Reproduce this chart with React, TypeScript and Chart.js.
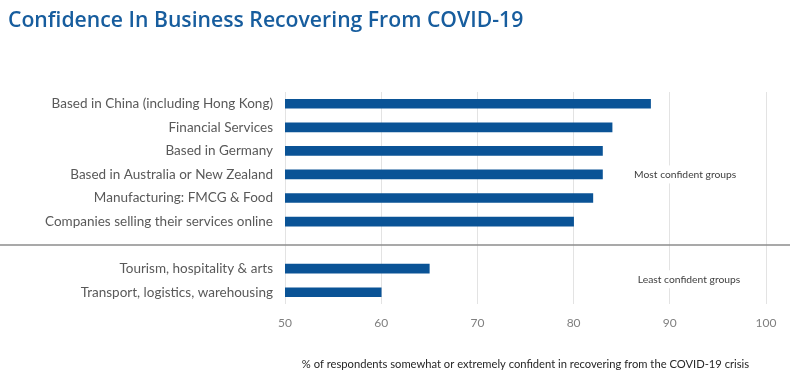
import React, { useEffect, useRef } from "react";
import { Chart, registerables } from "chart.js";
Chart.register(...registerables);

const TITLE = "Confidence In Business Recovering From COVID-19";
const categories = [
  "Based in China (including Hong Kong)",
  "Financial Services",
  "Based in Germany",
  "Based in Australia or New Zealand",
  "Manufacturing: FMCG & Food",
  "Companies selling their services online",
  "",
  "Tourism, hospitality & arts",
  "Transport, logistics, warehousing",
];
const values: (number | null)[] = [88, 84, 83, 83, 82, 80, null, 65, 60];
const GAP_INDEX = 6;
const annotations = [
  { text: "Most confident groups", category: 3, value: 91.6 },
  { text: "Least confident groups", category: 7.45, value: 92.0 },
];
const xTicks = [50, 60, 70, 80, 90, 100];
const AXIS_TITLE = "% of respondents somewhat or extremely confident in recovering from the COVID-19 crisis";

const FONT = "Lato, 'Open Sans', sans-serif";
const BAR = "#0a5396";

const overlay = {
  id: "overlay",
  afterDraw(chart: any) {
    const ctx = chart.ctx;
    const x = chart.scales.x;
    const y = chart.scales.y;
    ctx.save();
    // title
    ctx.fillStyle = "#175d9e";
    ctx.font = `600 21.2px 'Open Sans', sans-serif`;
    ctx.textAlign = "left";
    ctx.textBaseline = "alphabetic";
    ctx.fillText(TITLE, 8, 27);
    // separator line
    const yy = y.getPixelForValue(GAP_INDEX);
    ctx.strokeStyle = "#8c8c8c";
    ctx.lineWidth = 1.5;
    ctx.beginPath();
    ctx.moveTo(0, yy);
    ctx.lineTo(790, yy);
    ctx.stroke();
    // annotations
    ctx.font = `10.3px ${FONT}`;
    ctx.textAlign = "center";
    ctx.textBaseline = "middle";
    for (const a of annotations) {
      const px = x.getPixelForValue(a.value);
      const py = y.getPixelForValue(a.category);
      const w = ctx.measureText(a.text).width;
      ctx.fillStyle = "#ffffff";
      ctx.fillRect(px - w / 2 - 4, py - 9, w + 8, 18);
      ctx.fillStyle = "#404040";
      ctx.fillText(a.text, px, py);
    }
    ctx.restore();
  },
};

export default function App() {
  const ref = useRef<HTMLCanvasElement>(null);
  useEffect(() => {
    const chart = new Chart(ref.current!, {
      type: "bar",
      data: {
        labels: categories,
        datasets: [
          {
            data: values,
            backgroundColor: BAR,
            barThickness: 9,
          },
        ],
      },
      plugins: [overlay],
      options: {
        indexAxis: "y",
        animation: false,
        responsive: false,
        maintainAspectRatio: false,
        layout: { padding: { top: 92, right: 34, left: 0, bottom: 0 } },
        plugins: {
          legend: { display: false },
          tooltip: { enabled: false },
        },
        scales: {
          x: {
            min: 50,
            max: 100,
            afterBuildTicks: (s: any) => {
              s.ticks = xTicks.map((v) => ({ value: v }));
            },
            afterFit: (s: any) => {
              s.height = 71;
            },
            grid: { color: "#e3e3e3", drawTicks: false, lineWidth: 1 },
            border: { display: false },
            ticks: {
              color: "#7f7f7f",
              font: { family: FONT, size: 12 },
              padding: 12,
            },
            title: {
              display: true,
              text: AXIS_TITLE,
              color: "#262626",
              font: { family: FONT, size: 11.2 },
              padding: { top: 20 },
            },
          },
          y: {
            afterFit: (s: any) => {
              s.width = 285;
            },
            grid: { display: false, drawTicks: false },
            border: { display: false },
            ticks: {
              color: "#595959",
              font: { family: FONT, size: 13.5 },
              padding: 12,
              autoSkip: false,
            },
          },
        },
      },
    } as any);
    return () => chart.destroy();
  }, []);
  return (
    <div style={{ position: "absolute", left: 0, top: 0, width: 800, height: 375, background: "#fff" }}>
      <canvas ref={ref} width={800} height={375} />
    </div>
  );
}
